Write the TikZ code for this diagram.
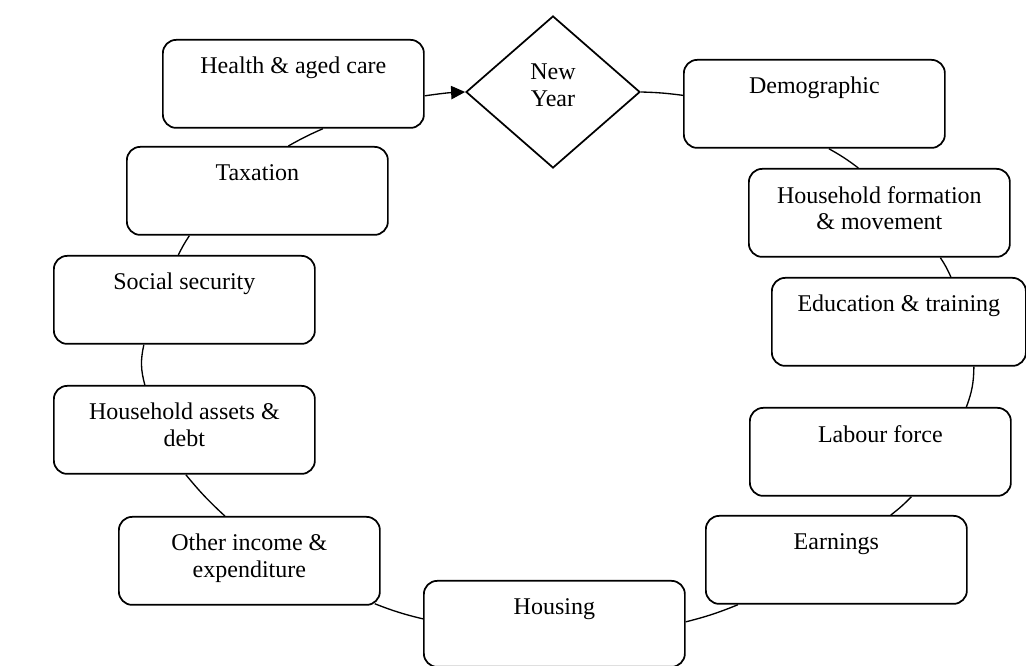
\documentclass[tikz,border=0pt]{standalone}
\usepackage{fontspec}
\setmainfont{Liberation Serif}
\usetikzlibrary{shapes.geometric,arrows.meta,calc}

% Box caption: centred, hanging from the top edge of the box
\newcommand{\boxlabel}[2][66pt]{\parbox[c][#1][t]{190pt}{\centering\vspace*{13pt}#2}}

\tikzset{
  stagebox/.style={draw, rounded corners=10pt, line width=1.3pt, inner sep=0pt,
    minimum width=195.75pt, minimum height=66pt, anchor=north west,
    font=\fontsize{18}{20}\selectfont},
  yearbox/.style={draw, diamond, line width=1.3pt, inner sep=0pt,
    minimum width=130.5pt, minimum height=114pt},
  yeartext/.style={align=center, inner sep=0pt, font=\fontsize{18}{20}\selectfont},
  link/.style={line width=1pt},
  arrowlink/.style={line width=1pt, -{Triangle[length=10.5pt,width=10pt]}}
}

\begin{document}
\begin{tikzpicture}[x=0.75pt, y=-0.75pt]
  \useasboundingbox (0,0) rectangle (1026,666);

  % Yearly cycle of modules
  \node[yearbox] (ny) at (553,92) {};
  \node[yeartext] (nylabel) at (553,85) {New\\Year};

  \node[stagebox] (demo)    at (683,59)  {\boxlabel{Demographic}};
  \node[stagebox] (hhf)     at (748,168) {\boxlabel{Household formation\\ \& movement}};
  \node[stagebox, minimum width=190.5pt] (edu) at (771,277) {\boxlabel{Education \& training}};
  \node[stagebox] (labour)  at (749,407) {\boxlabel{Labour force}};
  \node[stagebox] (earn)    at (705,515) {\boxlabel{Earnings}};
  \node[stagebox, minimum height=64.5pt] (housing) at (423,580) {\boxlabel[64.5pt]{Housing}};
  \node[stagebox] (other)   at (118,516) {\boxlabel{Other income \&\\ expenditure}};
  \node[stagebox] (assets)  at (53,385)  {\boxlabel{Household assets \&\\ debt}};
  \node[stagebox] (soc)     at (53,255)  {\boxlabel{Social security}};
  \node[stagebox] (tax)     at (126,146) {\boxlabel{Taxation}};
  \node[stagebox] (health)  at (162,39)  {\boxlabel{Health \& aged care}};

  % Connectors, clockwise round the cycle
  \draw[arrowlink] ($(health.east)+(0,12)$) to[bend left=3] (ny.west);
  \draw[link] (ny.east) to[bend left=3] ($(demo.west)+(0,-8.5)$);
  \draw[link] ($(demo.south)+(14.5,0)$) to[bend left=4] ($(hhf.north)+(-21,0)$);
  \draw[link] ($(hhf.south)+(61,0)$) to[bend left=5] ($(edu.north)+(52,0)$);
  \draw[link] ($(edu.south)+(75,0)$) to[bend left=10] ($(labour.north)+(86,0)$);
  \draw[link] ($(labour.south)+(31,0)$) to[bend left=4] ($(earn.north)+(54.5,0)$);
  \draw[link] ($(earn.south)+(-98.5,0)$) to[bend left=4] ($(housing.east)+(0,-2)$);
  \draw[link] ($(housing.west)+(0,-5)$) to[bend left=4] ($(other.south east)+(-6,-2)$);
  \draw[link] ($(other.north)+(-24.5,0)$) to[bend left=4] ($(assets.south)+(1.5,0)$);
  \draw[link] ($(assets.north)+(-39.5,0)$) to[bend left=14] ($(soc.south)+(-40.5,0)$);
  \draw[link] ($(soc.north)+(-6,0)$) to[bend left=4] ($(tax.south)+(-68,0)$);
  \draw[link] ($(tax.north)+(31,0)$) to[bend left=3] ($(health.south)+(29.5,0)$);
\end{tikzpicture}
\end{document}
